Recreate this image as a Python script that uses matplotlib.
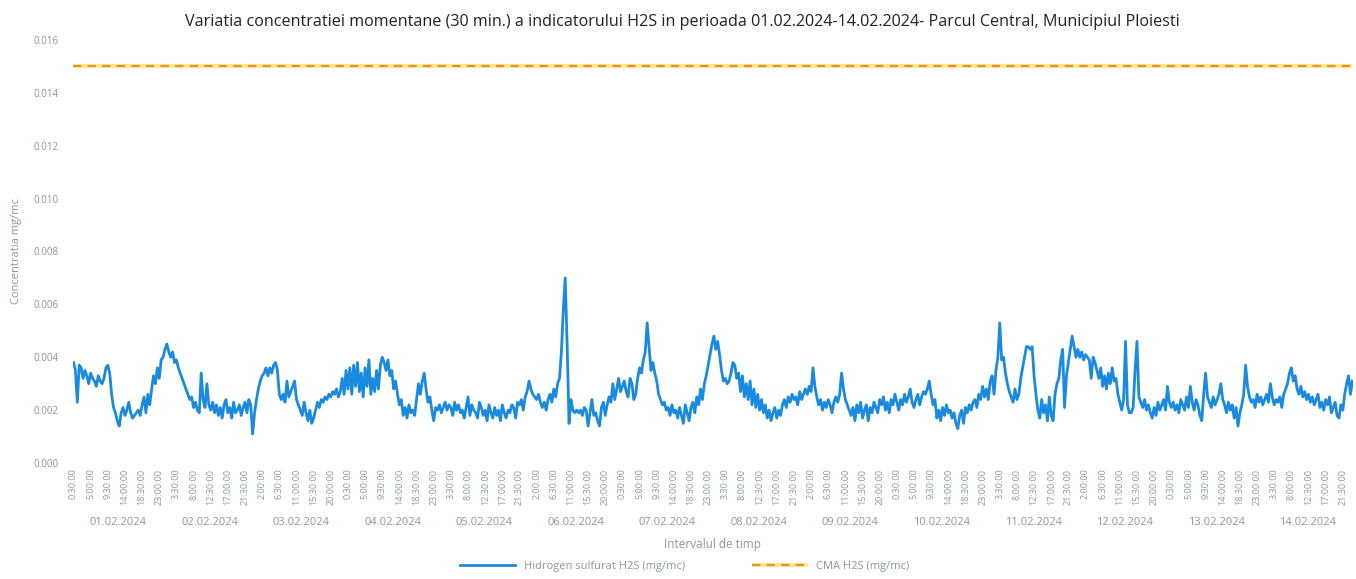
import matplotlib.pyplot as plt
from matplotlib.legend_handler import HandlerTuple
import numpy as np

plt.rcParams['font.family'] = ['Open Sans', 'DejaVu Sans']

# H2S half-hour values, ug/mc, one list per day (00:30 ... 24:00)
d01 = [3.8, 3.5, 2.3, 3.7, 3.6, 3.2, 3.5, 3.3, 3.0, 3.4, 3.2, 3.1, 2.9, 3.3, 3.1, 3.0,
       3.2, 3.6, 3.7, 3.4, 2.6, 2.1, 1.9, 1.6, 1.4, 1.9, 2.1, 1.8, 2.0, 2.3, 1.9, 1.7,
       1.8, 1.9, 2.0, 1.8, 2.2, 2.5, 1.9, 2.6, 2.2, 2.8, 3.3, 3.0, 3.6, 3.2, 3.9, 4.0]
d02 = [4.3, 4.5, 4.2, 4.0, 4.2, 3.8, 3.9, 3.6, 3.4, 3.2, 3.0, 2.8, 2.6, 2.4, 2.5, 2.1,
       2.3, 2.0, 1.9, 3.4, 2.4, 2.1, 3.0, 2.2, 2.0, 2.3, 1.9, 2.2, 1.8, 2.1, 1.7, 2.2,
       2.4, 1.9, 2.1, 1.7, 2.3, 1.9, 2.0, 2.2, 1.8, 2.1, 2.3, 1.9, 2.4, 2.2, 1.1, 1.9]
d03 = [2.4, 2.8, 3.1, 3.3, 3.4, 3.6, 3.3, 3.6, 3.4, 3.7, 3.8, 3.5, 2.6, 2.4, 2.6, 2.3,
       3.1, 2.5, 2.7, 2.9, 3.1, 2.4, 2.2, 2.0, 1.8, 2.3, 1.9, 1.6, 2.0, 1.5, 1.7, 2.0,
       2.3, 2.1, 2.4, 2.3, 2.5, 2.4, 2.6, 2.5, 2.7, 2.6, 2.8, 2.5, 2.7, 3.2, 2.6, 3.5]
d04 = [2.8, 3.6, 2.6, 3.7, 2.9, 3.8, 2.7, 3.4, 2.5, 3.6, 2.9, 3.9, 2.6, 3.2, 2.7, 3.5,
       2.8, 3.7, 4.0, 3.8, 3.5, 3.9, 3.3, 3.5, 2.8, 3.1, 2.6, 2.2, 2.4, 1.8, 2.1, 1.7,
       2.2, 1.9, 2.0, 1.8, 2.4, 3.0, 2.6, 3.1, 3.4, 2.8, 2.3, 2.5, 2.0, 1.6, 2.1, 2.0]
d05 = [2.2, 1.9, 2.1, 2.3, 2.0, 2.2, 2.1, 1.8, 2.3, 2.0, 2.2, 1.9, 2.0, 1.7, 2.1, 2.5,
       1.8, 2.2, 2.0, 1.9, 1.7, 2.3, 2.1, 1.8, 2.0, 1.6, 2.2, 1.9, 1.7, 2.1, 1.8, 2.0,
       1.6, 2.2, 1.9, 1.7, 2.0, 1.9, 2.2, 2.1, 1.7, 2.3, 2.2, 2.4, 2.0, 2.5, 2.7, 3.1]
d06 = [2.8, 2.6, 2.5, 2.4, 2.6, 2.3, 2.1, 2.3, 2.0, 2.4, 2.6, 2.3, 2.8, 2.5, 3.0, 3.2,
       4.2, 5.8, 7.0, 4.5, 1.5, 2.4, 2.0, 1.9, 2.0, 1.9, 2.0, 1.8, 2.1, 2.0, 1.4, 1.9,
       2.4, 1.8, 1.9, 1.6, 1.4, 2.1, 2.3, 1.8, 2.2, 2.5, 2.3, 3.0, 2.4, 2.8, 3.2, 2.7]
d07 = [2.9, 3.1, 2.7, 2.5, 3.2, 3.0, 2.4, 2.6, 3.2, 3.6, 3.4, 3.9, 4.2, 5.3, 4.4, 3.5,
       3.8, 3.4, 3.1, 2.6, 2.4, 2.2, 2.3, 2.0, 2.1, 1.8, 2.2, 1.9, 2.0, 1.7, 2.1, 1.8,
       1.5, 2.2, 1.9, 1.6, 2.1, 2.3, 1.9, 2.5, 2.2, 2.8, 2.4, 3.0, 3.3, 3.7, 4.1, 4.5]
d08 = [4.8, 4.3, 4.6, 4.1, 3.5, 3.1, 3.2, 3.0, 3.1, 3.4, 3.8, 3.7, 3.2, 3.4, 2.7, 3.3,
       2.5, 3.0, 2.4, 3.1, 2.2, 2.8, 2.1, 2.6, 2.0, 2.4, 1.9, 2.2, 1.7, 2.0, 1.6, 1.9,
       2.1, 1.7, 2.0, 1.8, 2.2, 2.4, 2.1, 2.5, 2.3, 2.6, 2.4, 2.5, 2.2, 2.7, 2.4, 2.6]
d09 = [2.8, 2.6, 2.9, 2.7, 3.6, 2.9, 2.5, 2.2, 2.4, 2.0, 2.3, 2.1, 2.4, 2.2, 1.9, 2.3,
       2.5, 2.3, 2.6, 3.4, 2.8, 2.4, 2.2, 2.0, 1.8, 2.1, 1.6, 2.2, 1.9, 2.3, 1.7, 2.0,
       2.2, 1.6, 2.1, 1.9, 2.3, 2.1, 1.9, 2.4, 2.2, 2.5, 2.0, 2.3, 1.9, 2.4, 2.2, 2.6]
d10 = [2.3, 2.0, 2.4, 2.2, 2.6, 2.3, 2.5, 2.8, 2.3, 2.1, 2.4, 2.6, 2.2, 2.5, 2.7, 2.6,
       2.8, 3.1, 2.6, 2.2, 2.4, 1.7, 2.0, 1.6, 2.1, 1.8, 2.2, 1.9, 2.0, 1.7, 1.9, 1.5,
       1.3, 1.8, 2.0, 1.5, 2.1, 1.9, 2.2, 2.0, 2.3, 2.4, 2.1, 2.6, 2.4, 2.9, 2.5, 2.8]
d11 = [2.4, 3.1, 3.3, 2.6, 3.5, 4.0, 5.3, 3.9, 4.0, 3.4, 3.0, 2.7, 2.5, 2.3, 2.8, 2.4,
       2.6, 3.2, 3.6, 4.0, 4.4, 4.4, 4.3, 4.4, 3.3, 2.6, 2.0, 1.7, 2.4, 1.9, 2.2, 1.6,
       2.5, 1.8, 1.6, 2.6, 3.0, 3.2, 3.9, 4.3, 2.1, 3.3, 3.8, 4.3, 4.8, 4.4, 4.0, 4.3]
d12 = [4.0, 4.2, 3.9, 4.1, 4.0, 3.9, 3.2, 4.0, 3.8, 3.5, 3.2, 3.6, 2.9, 3.3, 2.8, 3.4,
       3.0, 3.6, 3.1, 3.2, 2.6, 2.3, 2.0, 2.4, 4.6, 2.2, 1.9, 1.9, 2.1, 3.5, 4.6, 2.5,
       2.3, 2.1, 2.4, 2.0, 2.2, 1.9, 1.7, 2.1, 1.8, 2.3, 2.0, 2.2, 2.4, 2.0, 2.9, 2.3]
d13 = [2.1, 2.3, 2.0, 2.2, 1.9, 2.4, 2.2, 2.0, 2.5, 2.1, 2.9, 2.3, 2.0, 2.4, 2.2, 1.8,
       1.6, 2.6, 3.4, 2.5, 2.3, 2.1, 2.5, 2.2, 2.4, 2.6, 3.0, 2.4, 2.2, 1.9, 2.3, 2.0,
       2.2, 1.7, 2.1, 1.4, 1.9, 2.2, 2.6, 3.7, 2.9, 2.5, 2.3, 2.4, 2.1, 2.6, 2.3, 2.5]
d14 = [2.2, 2.4, 2.6, 2.3, 3.0, 2.5, 2.2, 2.4, 2.3, 2.5, 2.1, 2.6, 2.8, 3.0, 3.4, 3.6,
       3.1, 3.3, 2.8, 2.6, 2.9, 2.5, 2.7, 2.4, 2.6, 2.3, 2.5, 2.2, 2.4, 2.6, 2.1, 2.3,
       2.0, 2.4, 2.2, 2.5, 1.9, 2.1, 2.3, 1.8, 1.7, 2.2, 2.0, 2.6, 3.0, 3.3, 2.6, 3.1]

days = ['01.02.2024', '02.02.2024', '03.02.2024', '04.02.2024', '05.02.2024',
        '06.02.2024', '07.02.2024', '08.02.2024', '09.02.2024', '10.02.2024',
        '11.02.2024', '12.02.2024', '13.02.2024', '14.02.2024']
limita = 0.015  # CMA H2S, mg/mc

h2s = np.concatenate([d01, d02, d03, d04, d05, d06, d07, d08, d09, d10,
                      d11, d12, d13, d14]) / 1000.0   # ug/mc -> mg/mc
n = len(h2s)
x = np.arange(n)

# hour labels for every half-hour slot, starting at 0:30
times = []
for k in range(n):
    minutes = (k + 1) * 30 % (24 * 60)
    times.append('%d:%02d:00' % (minutes // 60, minutes % 60))

fig = plt.figure(figsize=(13.56, 5.79), dpi=100)
ax = fig.add_axes([0.0535, 0.2003, 0.9445, 0.7307])

lim_base, = ax.plot(x, np.full(n, limita), color='#ffe98a', lw=3.0, solid_capstyle='butt')
lim_dash, = ax.plot(x, np.full(n, limita), color='#f0902a', lw=1.5, dashes=(4, 3))
line, = ax.plot(x, h2s, color='#1a8ae0', lw=2.0)

ax.set_xlim(-0.5, n - 0.5)
ax.set_ylim(0, 0.016)
ax.set_yticks(np.arange(0, 0.0161, 0.002))
ax.set_yticklabels(['%.3f' % v for v in np.arange(0, 0.0161, 0.002)])

tick_pos = x[::9]
ax.set_xticks(tick_pos)
ax.set_xticklabels([times[k] for k in tick_pos], rotation=90)

lab_col = '#8a9a92'
ax.tick_params(axis='x', length=0, pad=4, labelsize=6.5, labelcolor=lab_col)
ax.tick_params(axis='y', length=0, pad=10, labelsize=7, labelcolor=lab_col)
for s in ax.spines.values():
    s.set_visible(False)

# day labels under the hour ticks
for d, day in enumerate(days):
    ax.text(d * 48 + 23.5, -0.14, day, transform=ax.get_xaxis_transform(),
            ha='center', va='center', fontsize=8, color=lab_col)

ax.set_xlabel('Intervalul de timp', fontsize=8.5, color=lab_col, labelpad=24)
ax.set_ylabel('Concentratia mg/mc', fontsize=8, color=lab_col, labelpad=8)
ax.set_title('Variatia concentratiei momentane (30 min.) a indicatorului H2S in perioada '
             '01.02.2024-14.02.2024- Parcul Central, Municipiul Ploiesti',
             fontsize=11.6, color='#222222', pad=10, x=0.476)

fig.legend([line, (lim_base, lim_dash)],
           ['Hidrogen sulfurat H2S (mg/mc)', 'CMA H2S (mg/mc)'],
           handler_map={tuple: HandlerTuple(ndivide=1)},
           loc='lower center', bbox_to_anchor=(0.505, -0.005), ncol=2, frameon=False,
           fontsize=8, labelcolor=lab_col, handlelength=5, columnspacing=6)

fig.savefig('out.png', dpi=100)
